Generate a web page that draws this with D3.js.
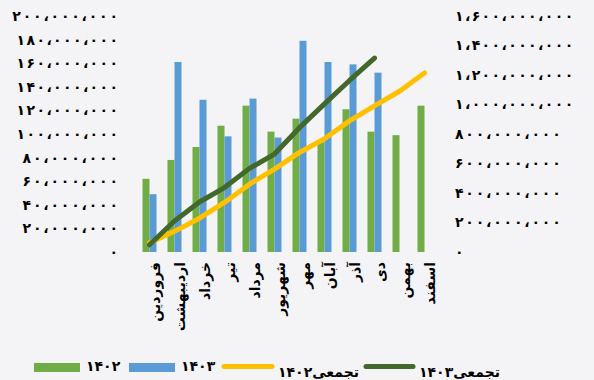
<!DOCTYPE html>
<html><head><meta charset="utf-8">
<script src="https://cdn.jsdelivr.net/npm/d3@7"></script>
<style>
html,body{margin:0;padding:0;background:#f4f3f6;}
svg{display:block;font-family:"DejaVu Sans",sans-serif;font-weight:bold;}
</style></head>
<body><svg id="c" width="594" height="380"></svg>
<script>
const months = ["فروردین","اردیبهشت","خرداد","تیر","مرداد","شهریور","مهر","آبان","آذر","دی","بهمن","اسفند"];
const sales1402 = [62e6, 78e6, 89e6, 107e6, 124e6, 102e6, 113e6, 93e6, 121e6, 102e6, 99e6, 124e6];
const sales1403 = [49e6, 161e6, 129e6, 98e6, 130e6, 97e6, 179e6, 161e6, 159e6, 152e6];
const cum1402 = [62e6, 140e6, 229e6, 336e6, 460e6, 562e6, 675e6, 768e6, 889e6, 991e6, 1090e6, 1214e6];
const cum1403 = [49e6, 210e6, 339e6, 437e6, 567e6, 664e6, 843e6, 1004e6, 1163e6, 1315e6];
const leftTicks = [0,20e6,40e6,60e6,80e6,100e6,120e6,140e6,160e6,180e6,200e6];
const rightTicks = [0,200e6,400e6,600e6,800e6,1000e6,1200e6,1400e6,1600e6];
const seriesNames = ["۱۴۰۲","۱۴۰۳","تجمعی۱۴۰۲","تجمعی۱۴۰۳"];
const colors = ["#70ad47","#5b9bd5","#ffc000","#43682b"];

const fa = v => d3.format(",")(v).replace(/\d/g, d => "۰۱۲۳۴۵۶۷۸۹"[+d]).replace(/,/g, "،");
// spread width of a tick label, mimicking the wide digits of the original font
const spread = s => {
  if (s.length < 2) return null;
  let w = 0;
  for (const ch of s) w += ch === "،" ? 6.5 : ch === "۱" ? 6 : 10.3;
  return w;
};

const svg = d3.select("#c");
const pTop = 16, pBottom = 252, pLeft = 137, pRight = 437;
const x = d3.scaleBand().domain(months).range([pLeft, pRight]).paddingInner(0.44).paddingOuter(0.22);
const xs = d3.scaleBand().domain([0,1]).range([0, x.bandwidth()]);
const yL = d3.scaleLinear().domain([0,200e6]).range([pBottom, pTop]);
const yR = d3.scaleLinear().domain([0,1600e6]).range([pBottom, pTop]);

function styleTicks(sel) {
  sel.selectAll("text").attr("font-size", 14).attr("font-family","DejaVu Sans").attr("font-weight","bold")
    .attr("fill","#000")
    .each(function() {
      const t = d3.select(this), w = spread(t.text());
      if (w) t.attr("textLength", w).attr("lengthAdjust", "spacing");
    });
}

// left axis
const la = svg.append("g").attr("transform", `translate(${pLeft},0)`)
  .call(d3.axisLeft(yL).tickValues(leftTicks).tickFormat(fa).tickSize(0).tickPadding(19));
la.select(".domain").remove();
styleTicks(la);

// right axis
const ra = svg.append("g").attr("transform", `translate(${pRight},0)`)
  .call(d3.axisRight(yR).tickValues(rightTicks).tickFormat(fa).tickSize(0).tickPadding(18));
ra.select(".domain").remove();
styleTicks(ra);

// bars
const g = svg.append("g");
[sales1402, sales1403].forEach((arr, si) => {
  g.selectAll(null).data(arr).enter().append("rect")
    .attr("x", (d,i) => x(months[i]) + xs(si))
    .attr("width", xs.bandwidth())
    .attr("y", d => yL(d))
    .attr("height", d => yL(0) - yL(d))
    .attr("fill", colors[si]);
});

// lines
const line = d3.line().x((d,i) => x(months[i]) + x.bandwidth()/2).y(d => yR(d));
[cum1402, cum1403].forEach((arr, si) => {
  svg.append("path").datum(arr).attr("d", line)
    .attr("fill","none").attr("stroke", colors[si+2]).attr("stroke-width", 5)
    .attr("stroke-linecap","round").attr("stroke-linejoin","round");
});

// x axis labels
const xa = svg.append("g").attr("transform", `translate(0,${pBottom})`)
  .call(d3.axisBottom(x).tickSize(0).tickPadding(0));
xa.select(".domain").remove();
xa.selectAll(".tick text")
  .attr("font-size", 14).attr("font-family","DejaVu Sans").attr("font-weight","bold").attr("fill","#000")
  .attr("text-anchor","end").attr("dy", null)
  .attr("transform","translate(5,10) rotate(-90)")
  .attr("x", 0).attr("y", 0).attr("dominant-baseline","central");

// legend
const lg = svg.append("g");
const items = [
  {type:"rect", x0:34, x1:80, tx:86, ty:371},
  {type:"rect", x0:129, x1:175, tx:181, ty:371},
  {type:"line", x0:224, x1:272, tx:278, ty:377},
  {type:"line", x0:366, x1:413, tx:419, ty:377}
];
items.forEach((it, i) => {
  if (it.type === "rect") {
    lg.append("rect").attr("x", it.x0).attr("y", 363).attr("width", it.x1 - it.x0).attr("height", 9).attr("fill", colors[i]);
  } else {
    lg.append("line").attr("x1", it.x0).attr("x2", it.x1).attr("y1", 366.5).attr("y2", 366.5)
      .attr("stroke", colors[i]).attr("stroke-width", 5).attr("stroke-linecap","round");
  }
  lg.append("text").attr("x", it.tx).attr("y", it.ty).attr("font-size", 14)
    .attr("fill","#000").text(seriesNames[i]);
});
</script></body></html>
